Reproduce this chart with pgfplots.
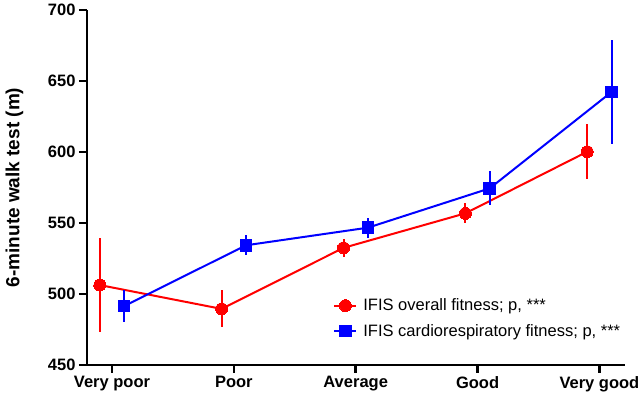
\documentclass[border=0pt]{standalone}
\usepackage{pgfplots}
\pgfplotsset{compat=1.18}
\usepackage{fontspec}
\setmainfont{Liberation Sans}
\definecolor{myred}{RGB}{255,0,0}
\definecolor{myblue}{RGB}{0,0,255}
\begin{document}
\begin{tikzpicture}
\path[use as bounding box] (-87pt,-33pt) rectangle (554pt,365pt);
\begin{axis}[
  scale only axis,
  width=538pt, height=355pt,
  xmin=-0.205, xmax=4.21,
  ymin=450, ymax=700,
  axis x line=bottom, axis y line=left,
  axis line style={-, line width=2.5pt, black},
  every tick/.style={line width=2.5pt, black},
  tick align=outside,
  major tick length=8pt,
  xtick={0,1,2,3,4},
  xticklabels={Very poor,Poor,Average,Good,Very good},
  ytick={450,500,550,600,650,700},
  /pgf/number format/assume math mode=true,
  tick label style={font=\fontsize{16.5}{19}\selectfont\bfseries},
  ylabel={6-minute walk test (m)},
  ylabel style={at={(axis description cs:-0.135,0.5)}, anchor=center, font=\fontsize{19}{22}\selectfont\bfseries},
  legend style={at={(0.452,0.198)}, anchor=north west, draw=none, fill=none,
    font=\fontsize{16.5}{19}\selectfont, row sep=8pt, cells={anchor=west}},
  legend image code/.code={%
    \draw[#1] (0pt,0pt) -- (22pt,0pt);
    \draw[#1] plot coordinates {(11pt,0pt)};
    \path (26pt,0pt);},
  clip=false,
]
\addplot+[myred, line width=2pt, mark=*, mark size=6pt, mark options={fill=myred, draw=myred, line width=0pt},
  error bars/.cd, y dir=both, y explicit, error bar style={line width=2pt, myred}, error mark=none]
  coordinates {
  (-0.1,506.3) +- (0,33)
  (0.9,489.5) +- (0,13)
  (1.9,532.5) +- (0,6.3)
  (2.9,556.8) +- (0,7)
  (3.9,600.2) +- (0,19.5)
};
\addlegendentry{IFIS overall fitness; p, ***}
\addplot+[myblue, line width=2pt, mark=square*, mark size=5.8pt, mark options={fill=myblue, draw=myblue, line width=0pt},
  error bars/.cd, y dir=both, y explicit, error bar style={line width=2pt, myblue}, error mark=none]
  coordinates {
  (0.1,491.5) +- (0,11)
  (1.1,534.3) +- (0,7)
  (2.1,546.7) +- (0,7)
  (3.1,574.4) +- (0,12)
  (4.1,642.3) +- (0,36.7)
};
\addlegendentry{IFIS cardiorespiratory fitness; p, ***}
\end{axis}
\end{tikzpicture}
\end{document}
